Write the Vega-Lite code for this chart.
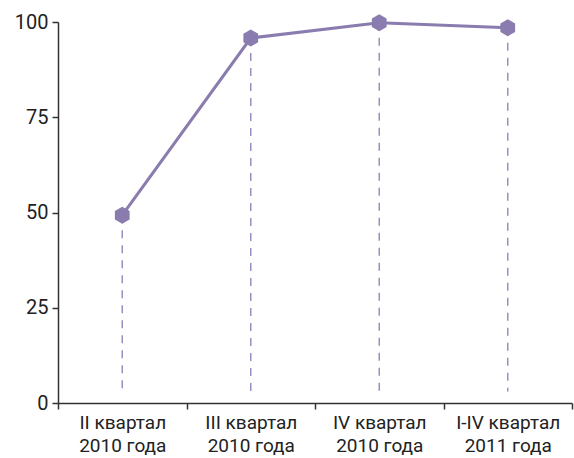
{
  "$schema": "https://vega.github.io/schema/vega-lite/v6.json",
  "width": 514,
  "height": 381,
  "autosize": "none",
  "padding": {"left": 58, "top": 22, "right": 2, "bottom": 55},
  "background": "white",
  "config": {"view": {"stroke": null}, "font": "Roboto"},
  "data": {"values": [
    {"period": "II квартал|2010 года", "value": 49.3, "base": 3},
    {"period": "III квартал|2010 года", "value": 95.8, "base": 3},
    {"period": "IV квартал|2010 года", "value": 99.8, "base": 3},
    {"period": "I-IV квартал|2011  года", "value": 98.5, "base": 3}
  ]},
  "encoding": {
    "x": {"field": "period", "type": "nominal", "sort": null,
      "scale": {"paddingInner": 0, "paddingOuter": 0},
      "axis": {"title": null, "labelAngle": 0, "labelExpr": "split(datum.label, '|')",
        "labelFont": "Roboto", "labelFontSize": 19, "labelColor": "#222",
        "labelLineHeight": 23, "labelPadding": 4,
        "domainColor": "#333", "domainWidth": 1.5, "tickColor": "#333", "tickWidth": 1.5, "tickSize": 6,
        "tickBand": "extent", "grid": false}}
  },
  "layer": [
    {"mark": {"type": "rule", "color": "#9a8fc0", "strokeWidth": 1.5, "strokeDash": [8, 7]},
     "encoding": {"y": {"field": "value", "type": "quantitative"}, "y2": {"field": "base"}}},
    {"mark": {"type": "line", "color": "#8a7cae", "strokeWidth": 3},
     "encoding": {"y": {"field": "value", "type": "quantitative",
       "scale": {"domain": [0, 100], "nice": false},
       "axis": {"title": null, "values": [0, 25, 50, 75, 100], "grid": false,
         "labelFont": "Roboto", "labelFontSize": 20, "labelColor": "#222", "labelPadding": 4,
         "domainColor": "#333", "domainWidth": 1.5, "tickColor": "#333", "tickWidth": 1.5, "tickSize": 6}}}},
    {"mark": {"type": "point", "filled": true, "opacity": 1, "color": "#8a7cae",
       "shape": "M0,-1L0.866,-0.5L0.866,0.5L0,1L-0.866,0.5L-0.866,-0.5Z", "size": 290},
     "encoding": {"y": {"field": "value", "type": "quantitative"}}}
  ]
}
